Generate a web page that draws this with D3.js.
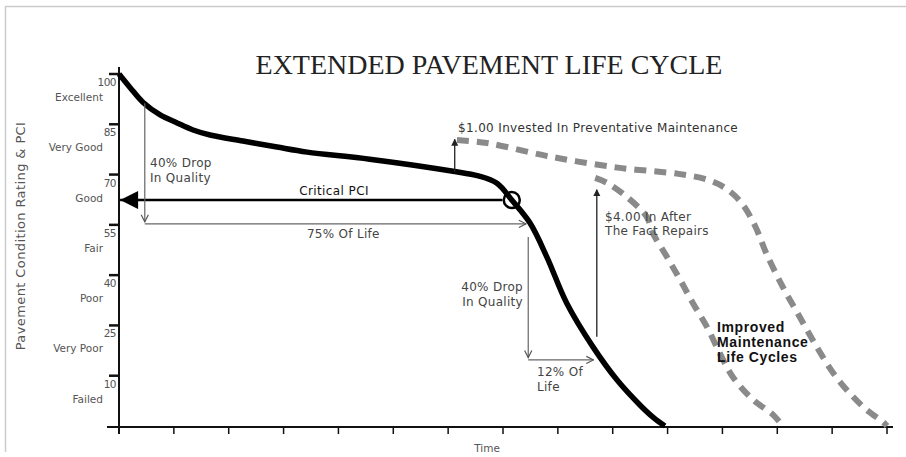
<!DOCTYPE html>
<html>
<head>
<meta charset="utf-8">
<script src="https://cdn.jsdelivr.net/npm/d3@7"></script>
<style>
  body { margin: 0; background: #fff; }
  svg { display: block; }
</style>
</head>
<body>
<div id="chart"></div>
<script>
// y axis ticks and condition names
const yTicks = [100, 85, 70, 55, 40, 25, 10];
const yCategories = ["Excellent", "Very Good", "Good", "Fair", "Poor", "Very Poor", "Failed"];
const xTicks = [0, 1, 2, 3, 4, 5, 6, 7, 8, 9, 10, 11, 12, 13, 14];

// original pavement life curve (time, PCI)
const mainTime = [0, 0.2, 0.44, 0.75, 1.06, 1.35, 1.66, 2.26, 2.88, 3.43, 4.57, 6.09, 6.55, 6.89, 7.16, 7.49, 7.8, 8.16, 8.64, 9.08, 9.5, 9.75, 9.95];
const mainPci  = [100, 96.0, 91.5, 87.8, 85.4, 83.3, 81.8, 80.0, 78.2, 76.7, 74.6, 71.0, 69.6, 67.4, 62.4, 55.6, 45.4, 31.7, 18.6, 8.7, 1.2, -2.6, -5];

// preventative maintenance cycle
const prevTime = [6.16, 6.71, 7.91, 9.13, 10.2, 10.7, 11.05, 11.35, 11.6, 11.8, 12.1, 12.41, 12.72, 13.02, 13.32, 13.63, 13.93, 14.0];
const prevPci  = [80.3, 79.4, 75.2, 72.0, 70.2, 68.6, 66.0, 61.5, 54.5, 46.5, 36.5, 27.5, 18.6, 10.8, 4.8, -0.2, -3.8, -5];

// after the fact repairs cycle
const repairTime = [8.68, 8.9, 9.26, 9.62, 9.73, 9.99, 10.23, 10.46, 10.72, 10.95, 11.19, 11.56, 11.92, 12.1];
const repairPci  = [69.0, 67.5, 63.3, 57.4, 52.6, 45.4, 38.6, 31.7, 24.5, 16.8, 9.6, 2.8, -1.6, -5];

const criticalPci = 62.4;
const criticalTime = 7.16;

const width = 906, height = 457;

const svg = d3.select("#chart").append("svg").attr("width", width).attr("height", height);

const x = d3.scaleLinear().domain([0, 14]).range([119, 887]);
const y = d3.scaleLinear().domain([-5, 100]).range([426, 74]);

const fontSans = "'DejaVu Sans', sans-serif";

// arrow markers
const defs = svg.append("defs");
defs.append("marker").attr("id", "thin").attr("viewBox", "0 0 10 10").attr("refX", 9).attr("refY", 5)
    .attr("markerWidth", 9).attr("markerHeight", 9).attr("markerUnits", "userSpaceOnUse").attr("orient", "auto")
    .append("path").attr("d", "M1,1 L9,5 L1,9").attr("fill", "none").attr("stroke", "#555").attr("stroke-width", 1.3);
defs.append("marker").attr("id", "solid").attr("viewBox", "0 0 10 10").attr("refX", 9).attr("refY", 5)
    .attr("markerWidth", 7).attr("markerHeight", 9).attr("markerUnits", "userSpaceOnUse").attr("orient", "auto")
    .append("path").attr("d", "M0,0 L10,5 L0,10 Z").attr("fill", "#222");
defs.append("marker").attr("id", "big").attr("viewBox", "0 0 10 10").attr("refX", 10).attr("refY", 5)
    .attr("markerWidth", 21).attr("markerHeight", 18).attr("markerUnits", "userSpaceOnUse").attr("orient", "auto")
    .append("path").attr("d", "M0,0 L10,5 L0,10 Z").attr("fill", "#000");

// frame
svg.append("path").attr("d", "M5.5,452 L5.5,6.5 L906,6.5").attr("fill", "none").attr("stroke", "#ccc").attr("stroke-width", 1.5);

// title
svg.append("text").attr("x", 489).attr("y", 74).attr("text-anchor", "middle")
    .style("font-family", "'Liberation Serif', serif").style("font-size", "28px").attr("fill", "#222")
    .text("EXTENDED PAVEMENT LIFE CYCLE");

// axes
svg.append("line").attr("x1", x(0)).attr("x2", x(0)).attr("y1", 67).attr("y2", 434).attr("stroke", "#111").attr("stroke-width", 2);
svg.append("line").attr("x1", 107).attr("x2", 893).attr("y1", y(-5) + 1).attr("y2", y(-5) + 1).attr("stroke", "#111").attr("stroke-width", 2);

svg.append("g").selectAll("line").data(xTicks).enter().append("line")
    .attr("x1", d => x(d)).attr("x2", d => x(d)).attr("y1", y(-5) + 1).attr("y2", y(-5) + 8)
    .attr("stroke", "#111").attr("stroke-width", 1.5);

const yg = svg.append("g").selectAll("g").data(yTicks).enter().append("g");
yg.append("line").attr("x1", 109).attr("x2", x(0)).attr("y1", d => y(d)).attr("y2", d => y(d))
    .attr("stroke", "#111").attr("stroke-width", 2.5);
yg.append("text").attr("x", 116).attr("y", d => y(d) + 12).attr("text-anchor", "end")
    .style("font-family", fontSans).style("font-size", "10.5px").attr("fill", "#555").attr("letter-spacing", "-0.5")
    .text(d => d);
yg.append("text").attr("x", 103).attr("y", (d, i) => y(d) + 27).attr("text-anchor", "end")
    .style("font-family", fontSans).style("font-size", "10.5px").attr("fill", "#555")
    .text((d, i) => yCategories[i]);

svg.append("text").attr("transform", "translate(25," + 236 + ") rotate(-90)").attr("text-anchor", "middle")
    .style("font-family", fontSans).style("font-size", "13px").attr("fill", "#555").attr("letter-spacing", "0.4")
    .text("Pavement Condition Rating & PCI");

svg.append("text").attr("x", 487).attr("y", 452).attr("text-anchor", "middle")
    .style("font-family", fontSans).style("font-size", "10.5px").attr("fill", "#555").text("Time");

// curves
const line = d3.line().x(d => x(d[0])).y(d => y(d[1])).curve(d3.curveCatmullRom.alpha(0.5));

svg.append("path").datum(d3.zip(prevTime, prevPci)).attr("d", line)
    .attr("fill", "none").attr("stroke", "#8a8a8a").attr("stroke-width", 6).attr("stroke-dasharray", "12,8");
svg.append("path").datum(d3.zip(repairTime, repairPci)).attr("d", line)
    .attr("fill", "none").attr("stroke", "#8a8a8a").attr("stroke-width", 6).attr("stroke-dasharray", "12,8");
svg.append("path").datum(d3.zip(mainTime, mainPci)).attr("d", line)
    .attr("fill", "none").attr("stroke", "#000").attr("stroke-width", 5.5).attr("stroke-linecap", "butt");

// critical PCI line
svg.append("line").attr("x1", x(6.99)).attr("x2", x(0.02)).attr("y1", y(criticalPci)).attr("y2", y(criticalPci))
    .attr("stroke", "#000").attr("stroke-width", 2.5).attr("marker-end", "url(#big)");
svg.append("circle").attr("cx", x(criticalTime)).attr("cy", y(criticalPci)).attr("r", 8)
    .attr("fill", "none").attr("stroke", "#000").attr("stroke-width", 2.5);
svg.append("text").attr("x", 334).attr("y", y(criticalPci) - 5).attr("text-anchor", "middle")
    .style("font-family", fontSans).style("font-size", "12px").attr("fill", "#111").attr("letter-spacing", "0.4")
    .text("Critical PCI");

// thin annotation arrows
function arrow(t1, v1, t2, v2, marker, color, w) {
    svg.append("line").attr("x1", x(t1)).attr("y1", y(v1)).attr("x2", x(t2)).attr("y2", y(v2))
        .attr("stroke", color).attr("stroke-width", w).attr("marker-end", "url(#" + marker + ")");
}
arrow(0.47, 91.3, 0.47, 55.9, "thin", "#666", 1.2);
arrow(0.47, 55.3, 7.42, 55.3, "thin", "#666", 1.2);
arrow(7.46, 51.4, 7.46, 15.4, "thin", "#666", 1.2);
arrow(7.46, 14.7, 8.65, 14.7, "thin", "#666", 1.2);
arrow(6.12, 70.7, 6.12, 80.5, "solid", "#222", 1.3);
arrow(8.71, 21.6, 8.71, 65.5, "solid", "#222", 1.3);

function label(px, py, lines, opts) {
    const t = svg.append("text").attr("x", px).attr("y", py)
        .style("font-family", opts.family || fontSans).style("font-size", opts.size || "12px")
        .style("font-weight", opts.weight || "normal").attr("fill", opts.color || "#444")
        .attr("letter-spacing", opts.ls || "0.3")
        .attr("text-anchor", opts.anchor || "start");
    lines.forEach((s, i) => t.append("tspan").attr("x", px).attr("dy", i === 0 ? 0 : (opts.lh || 15)).text(s));
}
label(150, 167, ["40% Drop", "In Quality"], {});
label(x(4.09), 238, ["75% Of Life"], { anchor: "middle" });
label(458, 132, ["$1.00 Invested In Preventative Maintenance"], { color: "#333", ls: "0.35" });
label(605, 221, ["$4.00 In After", "The Fact Repairs"], { lh: 14 });
label(523, 291, ["40% Drop", "In Quality"], { anchor: "end" });
label(537, 376, ["12% Of", "Life"], {});
label(717, 332, ["Improved", "Maintenance", "Life Cycles"], { family: "'Liberation Sans', Arial, sans-serif", size: "14px", weight: "bold", color: "#111", lh: 15, ls: "0.6" });
</script>
</body>
</html>
